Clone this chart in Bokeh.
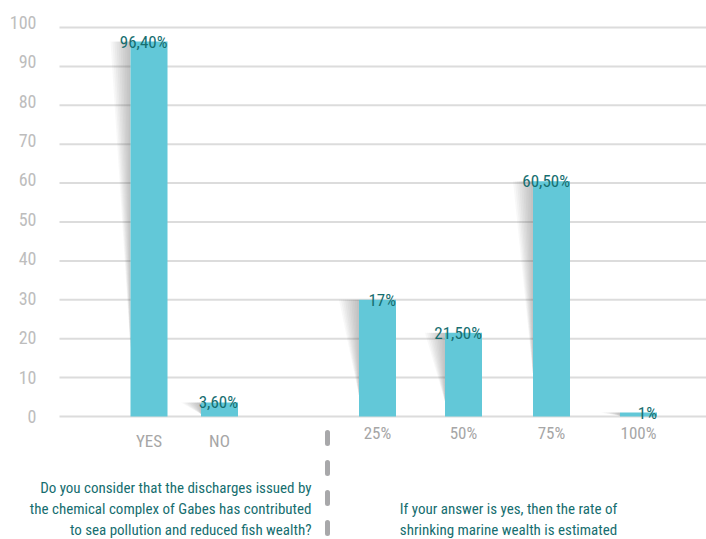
from bokeh.plotting import figure
from bokeh.models import ColumnDataSource, Range1d
from bokeh.core.properties import value
from bokeh.embed import file_html
from bokeh.resources import INLINE

# ---- data ----
categories = ["YES", "NO", "25%", "50%", "75%", "100%"]
values = [96.4, 3.6, 30, 21.5, 60.5, 1]
value_labels = ["96,40%", "3,60%", "17%", "21,50%", "60,50%", "1%"]
y_ticks = [0, 10, 20, 30, 40, 50, 60, 70, 80, 90, 100]
question_left = ["Do you consider that the discharges issued by",
                 "the chemical complex of Gabes has contributed",
                 "to sea pollution and reduced fish wealth?"]
question_right = ["If your answer is yes, then the rate of",
                  "shrinking marine wealth is estimated"]

# ---- layout (x in canvas pixels, y in value units) ----
W, H = 706, 539
GRID_LEFT = 59
PX_PER_UNIT = 3.89
ZERO_PY = 416
x_pos = [148.5, 219, 377, 463, 551, 638]
BAR_W = 37
LABEL_SCALE = 1.0136


def py(v):
    return (ZERO_PY - v) / PX_PER_UNIT


FONT = value("Roboto Condensed")
TEAL = "#166e6f"
BAR = "#62c8d8"

p = figure(width=W, height=H, output_backend="svg", toolbar_location=None,
           x_range=Range1d(0, W), y_range=Range1d(py(H), py(0)),
           min_border=0, outline_line_color=None)
p.axis.visible = False
p.grid.visible = False

# grid lines
p.segment(x0=[GRID_LEFT] * len(y_ticks), x1=[W] * len(y_ticks), y0=y_ticks,
          y1=y_ticks, line_color="#dcdcdc", line_width=2)
# tick labels
p.text(x=[36] * len(y_ticks), y=[t * LABEL_SCALE for t in y_ticks],
       text=[str(t) for t in y_ticks], text_align="right", text_baseline="middle",
       text_font=FONT, text_font_size="18px", text_color="#bdbdbd")

# shadows: layered wedges to the left of each bar
N = 10
for i in range(1, N + 1):
    xs, ys = [], []
    for xc, v in zip(x_pos, values):
        xl = xc - BAR_W / 2
        w = 20 * i / N
        xs.append([xl - w, xl, xl])
        ys.append([v, v, v * 0.18])
    p.patches(xs, ys, fill_color="#666666", fill_alpha=0.045, line_color=None)

src = ColumnDataSource(dict(x=x_pos, top=values, cat=categories, lab=value_labels,
                            xr=[x + BAR_W / 2 for x in x_pos]))
p.vbar(x="x", top="top", bottom=0, width=BAR_W, source=src,
       fill_color=BAR, line_color=None)

p.text(x="xr", y="top", text="lab", source=src, text_align="right",
       text_baseline="alphabetic", text_font=FONT, text_font_size="17px",
       text_color=TEAL)

# category labels
cat_y = [py(440), py(440)] + [py(432)] * 4
p.text(x=x_pos, y=cat_y, text=categories, text_align="center",
       text_baseline="middle", text_font=FONT, text_font_size="17px",
       text_color="#a6a6a6")

# separator
p.line(x=[327, 327], y=[py(432), py(H + 10)], line_color="#a8a8aa",
       line_width=5, line_dash="11 19", line_cap="round")

# questions
p.text(x=[311] * 3, y=[py(487), py(508), py(529)], text=question_left,
       text_align="right", text_baseline="alphabetic", text_font=FONT,
       text_font_size="15px", text_color=TEAL)
p.text(x=[508] * 2, y=[py(508), py(529)], text=question_right,
       text_align="center", text_baseline="alphabetic", text_font=FONT,
       text_font_size="15px", text_color=TEAL)

open("out.html", "w").write(file_html(p, INLINE))
